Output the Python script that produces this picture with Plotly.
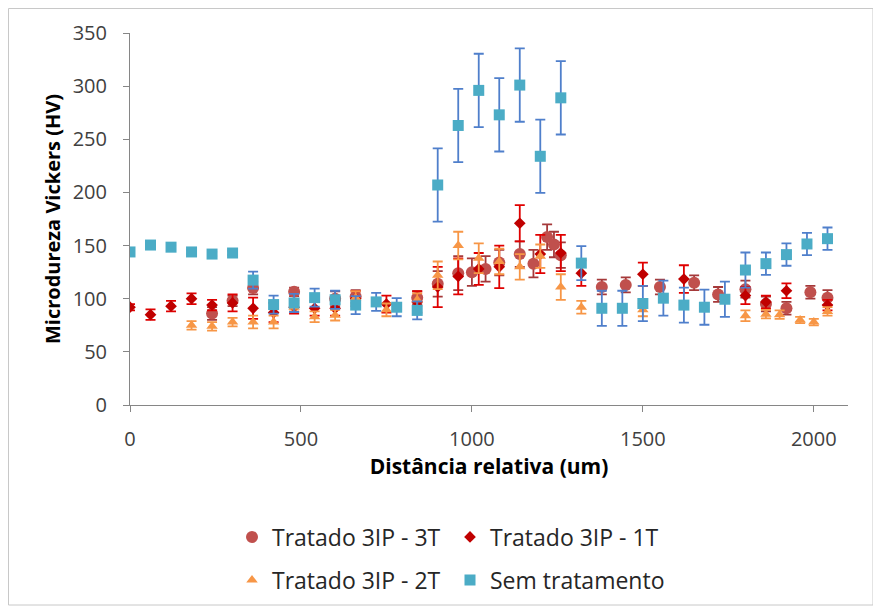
import plotly.graph_objects as go

# ---- data ----
x_3t = [240, 300, 360, 480, 600, 660, 840, 900, 960, 1000, 1040, 1080, 1140, 1180, 1220, 1240, 1260,
        1380, 1450, 1550, 1650, 1720, 1800, 1860, 1920, 1990, 2040]
y_3t = [86, 98, 110, 106.5, 100, 102, 101, 114, 124, 125, 128, 134, 142, 133, 158, 151, 141,
        111, 113, 111, 115, 104, 109, 95, 91, 106, 101]
e_3t = [6, 5, 6, 4, 7, 6, 6, 12, 16, 13, 12, 12, 12, 13, 12, 12, 12,
        7, 7, 7, 7, 7, 8, 7, 6, 6, 7]

x_1t = [0, 60, 120, 180, 240, 300, 360, 420, 480, 540, 600, 660, 750, 840, 900, 960, 1020, 1080,
        1140, 1200, 1260, 1320, 1500, 1620, 1800, 1860, 1920, 2040]
y_1t = [92, 85, 93, 100, 94, 96, 91, 87, 92, 91, 91, 100, 95, 97, 111, 121, 128, 130,
        171, 142, 143, 124, 123, 118.5, 103, 97, 107.5, 94]
e_1t = [3, 5, 5, 5, 5, 8, 10, 9, 6, 7, 7, 7, 8, 10, 19, 17, 15, 20,
        17, 18, 17, 12, 11, 13, 8, 6, 7, 5]

x_2t = [180, 240, 300, 360, 420, 480, 540, 600, 660, 750, 840, 900, 960, 1020, 1080, 1140, 1200,
        1260, 1320, 1500, 1800, 1860, 1900, 1960, 2000, 2040]
y_2t = [75, 74, 78, 78, 78, 92, 83, 84.5, 101, 89.5, 99, 122, 150, 138, 135, 130, 140,
        111, 92, 89.5, 84, 85.5, 85, 80, 78, 88]
e_2t = [4, 4, 4, 6, 6, 4, 5, 5, 6, 6, 6, 13, 13, 14, 12, 12, 11,
        12, 6, 6, 5, 4, 4, 3, 3, 4]

x_st = [0, 60, 120, 180, 240, 300, 360, 420, 480, 540, 600, 660, 720, 780, 840, 900, 960, 1020,
        1080, 1140, 1200, 1260, 1320, 1380, 1440, 1500, 1560, 1620, 1680, 1740, 1800, 1860, 1920,
        1980, 2040]
y_st = [144, 150.5, 148.5, 144, 142, 143, 117.5, 94.5, 96, 101, 99, 94, 97, 92, 89, 207, 263, 296,
        273, 301, 234, 289, 133.5, 91, 91, 95.5, 100.5, 94, 92, 99.5, 127, 133, 141.5,
        151.5, 156.5]
e_st = [2, 2, 2, 2, 2, 2, 8, 8.5, 8.5, 8.5, 8.5, 8.5, 8.5, 8.5, 8.5, 34.5, 34.5, 34.5,
        34.5, 34.5, 34.5, 34.5, 16, 16.5, 16.5, 16.5, 16.5, 16.5, 16.5, 16.5, 16.5, 10.5, 10.5,
        10.5, 10.5]

x_ticks = [0, 500, 1000, 1500, 2000]
y_ticks = [0, 50, 100, 150, 200, 250, 300, 350]

FONT = "Open Sans"

fig = go.Figure()

def add(name, xs, ys, es, symbol, size, mcolor, ecolor, legend):
    fig.add_trace(go.Scatter(
        x=xs, y=ys, mode="markers", name=name, legend=legend,
        marker=dict(symbol=symbol, size=size, color=mcolor, line=dict(width=0)),
        error_y=dict(type="data", array=es, visible=True, color=ecolor, thickness=1.8, width=5),
    ))

add("Tratado 3IP - 3T", x_3t, y_3t, e_3t, "circle", 12, "#C0504D", "#A5393A", "legend")
add("Tratado 3IP - 1T", x_1t, y_1t, e_1t, "diamond", 9, "#C00000", "#E00000", "legend")
add("Tratado 3IP - 2T", x_2t, y_2t, e_2t, "triangle-up", 10, "#F79646", "#F79646", "legend2")
add("Sem tratamento", x_st, y_st, e_st, "square", 11, "#4BACC6", "#4F7FCB", "legend2")

# page body has an 8px offset; layout coordinates below are in figure pixels
W, H = 881, 613
L, T = 122, 25
R = W - 840
B = H - 397
pw, ph = W - L - R, H - T - B

def px_x(p):
    return (p - L) / pw

def px_y(p):
    return (H - B - p) / ph

fig.update_layout(
    width=W, height=H,
    margin=dict(l=L, r=R, t=T, b=B),
    paper_bgcolor="white", plot_bgcolor="white",
    font=dict(family=FONT, size=20, color="#404040"),
    showlegend=True,
    legend=dict(orientation="h", x=px_x(224), xanchor="left", y=px_y(529), yanchor="middle",
                font=dict(family=FONT, size=23, color="#262626"), entrywidth=173,
                bgcolor="rgba(0,0,0,0)"),
    legend2=dict(orientation="h", x=px_x(224), xanchor="left", y=px_y(572), yanchor="middle",
                 font=dict(family=FONT, size=23, color="#262626"), entrywidth=173,
                 bgcolor="rgba(0,0,0,0)"),
    xaxis=dict(
        range=[0, 2100], tickvals=x_ticks, ticktext=[str(v) for v in x_ticks],
        showgrid=False, zeroline=False, showline=True, linecolor="#868686", linewidth=1,
        ticks="outside", ticklen=6, tickcolor="#868686", ticklabelstandoff=10,
        tickfont=dict(family=FONT, size=20, color="#404040"),
        title=dict(text="<b>Distância relativa (um)</b>", font=dict(family=FONT, size=21, color="#000000"),
                   standoff=8),
    ),
    yaxis=dict(
        range=[0, 350], tickvals=y_ticks, ticktext=[str(v) for v in y_ticks],
        showgrid=False, zeroline=False, showline=True, linecolor="#868686", linewidth=1,
        ticks="outside", ticklen=6, tickcolor="#868686", ticklabelstandoff=12,
        tickfont=dict(family=FONT, size=20, color="#404040"),
        title=dict(text="<b>Microdureza Vickers (HV)</b>", font=dict(family=FONT, size=20, color="#000000"),
                   standoff=6),
    ),
    shapes=[dict(type="rect", xref="paper", yref="paper",
                 x0=px_x(0.5), x1=px_x(865), y0=px_y(597), y1=px_y(0.5),
                 line=dict(color="#C8C8C8", width=1), fillcolor="rgba(0,0,0,0)", layer="below")],
)

fig.write_html("out.html")
